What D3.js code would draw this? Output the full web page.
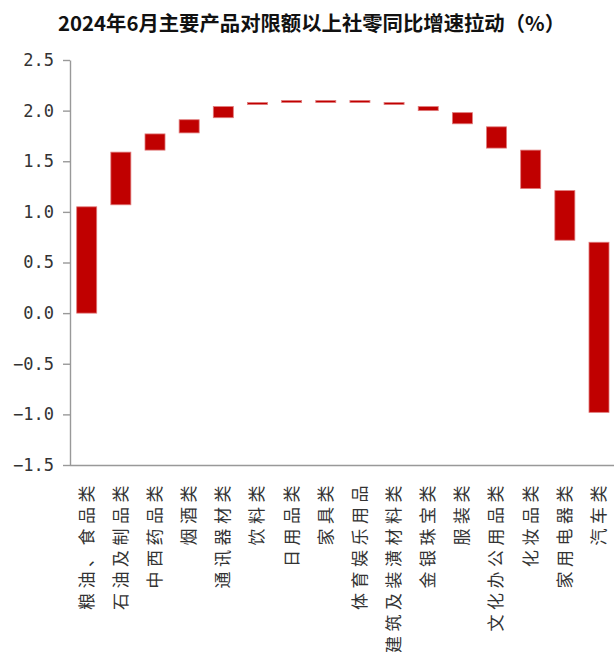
<!DOCTYPE html>
<meta charset="utf-8">
<style>
    body{ margin:0; background:#fff; }
    .title{ font-family:"Noto Sans CJK SC",sans-serif; font-weight:bold; font-size:20px; fill:#111; }
    .yax text{ font-family:"DejaVu Sans Mono",monospace; font-size:17px; fill:#333; }
    .xax text{ font-family:"Noto Sans CJK SC",sans-serif; font-size:17px; fill:#333; }
    .yax path, .yax line, .xax path{ stroke:#999; stroke-width:1.4; }
</style>
<script src="https://d3js.org/d3.v7.min.js"></script>
<body>
<div id="chart"></div>
<script>
    // categories and waterfall segments (from / to), in %
    var categories = ["粮油、食品类","石油及制品类","中西药品类","烟酒类","通讯器材类","饮料类","日用品类","家具类",
                      "体育娱乐用品","建筑及装潢材料类","金银珠宝类","服装类","文化办公用品类","化妆品类","家用电器类","汽车类"];
    var barFrom = [0.00, 1.07, 1.61, 1.78, 1.93, 2.06, 2.08, 2.08, 2.08, 2.06, 2.00, 1.87, 1.63, 1.23, 0.72, -0.98];
    var barTo   = [1.05, 1.59, 1.77, 1.91, 2.04, 2.08, 2.10, 2.10, 2.10, 2.08, 2.04, 1.98, 1.84, 1.61, 1.21, 0.70];
    var yTicks  = [-1.5, -1.0, -0.5, 0.0, 0.5, 1.0, 1.5, 2.0, 2.5];

    var width = 614, height = 652;
    var svg = d3.select("#chart").append("svg")
                .attr("width", width)
                .attr("height", height);

    svg.append("text")
       .attr("class", "title")
       .attr("x", 58)
       .attr("y", 31)
       .attr("textLength", 507)
       .attr("lengthAdjust", "spacingAndGlyphs")
       .text("2024年6月主要产品对限额以上社零同比增速拉动（%）");

    var x = d3.scaleBand()
              .domain(categories)
              .range([70, 615.7])
              .paddingInner(0.414)
              .paddingOuter(0.196);
    var y = d3.scaleLinear()
              .domain([-1.5, 2.5])
              .range([465, 60]);

    var yAxis = svg.append("g")
                   .attr("class", "yax")
                   .attr("transform", "translate(70,0)")
                   .call(d3.axisLeft(y).tickValues(yTicks).tickSize(7).tickSizeOuter(0).tickPadding(9)
                           .tickFormat(d3.format(".1f")));

    var xAxis = svg.append("g")
                   .attr("class", "xax")
                   .attr("transform", "translate(0,465)")
                   .call(d3.axisBottom(x).tickSize(0).tickSizeOuter(0));
    xAxis.select(".domain").attr("d", "M70,0.5H614");
    xAxis.selectAll("text")
         .attr("letter-spacing", "4.5px")
         .attr("text-anchor", "end")
         .attr("dy", "0.35em")
         .attr("transform", "translate(0,16) rotate(-90)")
         .attr("x", 0)
         .attr("y", 0);

    svg.append("g")
       .selectAll("rect")
       .data(categories)
       .join("rect")
       .attr("x", function(d){ return x(d); })
       .attr("width", x.bandwidth())
       .attr("y", function(d, i){ return y(Math.max(barFrom[i], barTo[i])); })
       .attr("height", function(d, i){ return Math.abs(y(barFrom[i]) - y(barTo[i])); })
       .attr("fill", "#C00000")
       .attr("stroke", "#e07a7a")
       .attr("stroke-width", 0.8);
</script>
</body>
